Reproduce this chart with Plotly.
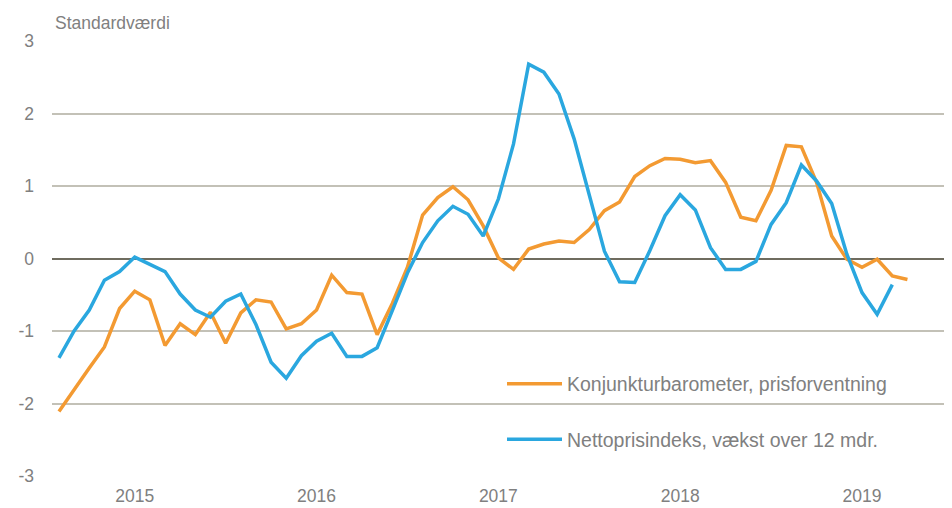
import plotly.graph_objects as go

months = [f"{2015 + k // 12}-{k % 12 + 1:02d}" for k in range(57)]

konjunktur = [-2.11, -1.80, -1.51, -1.22, -0.69, -0.45, -0.57, -1.20, -0.90, -1.05,
              -0.74, -1.17, -0.75, -0.57, -0.60, -0.97, -0.90, -0.71, -0.23, -0.47,
              -0.49, -1.05, -0.62, -0.12, 0.60, 0.84, 0.99, 0.81, 0.45, 0.01,
              -0.15, 0.13, 0.20, 0.24, 0.22, 0.40, 0.66, 0.78, 1.13, 1.28,
              1.38, 1.37, 1.32, 1.35, 1.05, 0.57, 0.52, 0.94, 1.56, 1.54,
              1.05, 0.31, -0.01, -0.12, -0.01, -0.24, -0.29]

netto = [-1.37, -1.00, -0.71, -0.30, -0.18, 0.02, -0.08, -0.18, -0.49, -0.71,
         -0.81, -0.59, -0.49, -0.91, -1.43, -1.65, -1.34, -1.14, -1.03, -1.35,
         -1.35, -1.23, -0.72, -0.20, 0.22, 0.52, 0.72, 0.61, 0.31, 0.82,
         1.58, 2.68, 2.57, 2.27, 1.65, 0.86, 0.10, -0.32, -0.33, 0.11,
         0.59, 0.88, 0.67, 0.15, -0.15, -0.15, -0.04, 0.47, 0.77, 1.29,
         1.07, 0.76, 0.06, -0.47, -0.77, -0.36]

tick_positions = ["2015-06", "2016-06", "2017-06", "2018-06", "2019-06"]
tick_labels = ["2015", "2016", "2017", "2018", "2019"]
y_ticks = [-3, -2, -1, 0, 1, 2, 3]
y_labels = ["-3", "-2", "-1", "0", "1", "2", "3"]

FONT = "Liberation Sans, Arial, sans-serif"
TXT = "#808080"

fig = go.Figure()
fig.add_trace(go.Scatter(x=months[:len(konjunktur)], y=konjunktur, mode="lines",
                         name="Konjunkturbarometer, prisforventning",
                         line=dict(color="#F39A32", width=3.5), legendgroup="a"))
fig.add_trace(go.Scatter(x=months[:len(netto)], y=netto, mode="lines",
                         name="Nettoprisindeks, vækst over 12 mdr.",
                         line=dict(color="#2AA7DF", width=3.5), legendgroup="b"))

fig.update_layout(
    width=944, height=500,
    margin=dict(l=44, r=0, t=33, b=32),
    paper_bgcolor="white", plot_bgcolor="white",
    font=dict(family=FONT, size=17.5, color=TXT),
    showlegend=True,
    legend=dict(x=0.5, xanchor="left", y=0.256, yanchor="top",
                bgcolor="rgba(0,0,0,0)", font=dict(size=19.5, color=TXT),
                traceorder="grouped", tracegroupgap=27, itemwidth=55),
    xaxis=dict(type="category", categoryorder="array", categoryarray=months,
               range=[-0.46, 58.94], showgrid=False, zeroline=False,
               showline=False, ticks="", tickmode="array",
               tickvals=tick_positions, ticktext=tick_labels,
               tickfont=dict(size=17.5, color=TXT), ticklabelstandoff=7,
               automargin=False),
    yaxis=dict(range=[-3, 3], tickmode="array", tickvals=y_ticks, ticktext=y_labels,
               showgrid=True, gridcolor="#c3c1b7", gridwidth=1.5,
               zeroline=True, zerolinecolor="#6f6c5f", zerolinewidth=2,
               showline=False, ticks="", tickfont=dict(size=17.5, color=TXT),
               ticklabelstandoff=17, automargin=False),
    annotations=[dict(text="Standardværdi", xref="paper", yref="paper",
                      x=0, y=1, xanchor="left", yanchor="bottom",
                      xshift=1, yshift=6, showarrow=False,
                      font=dict(size=17.5, color=TXT))],
)

fig.write_html("out.html")
